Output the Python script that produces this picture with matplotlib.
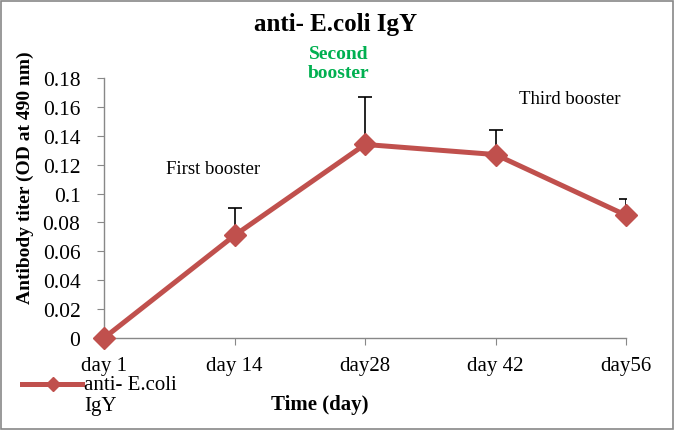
import matplotlib
matplotlib.use("Agg")
import matplotlib.pyplot as plt
from matplotlib.lines import Line2D
from matplotlib.patches import Rectangle

days = ["day 1", "day 14", "day28", "day 42", "day56"]
titer = [0.0, 0.071, 0.134, 0.127, 0.085]
err_upper = [0.0, 0.019, 0.033, 0.017, 0.011]
yticks = [0, 0.02, 0.04, 0.06, 0.08, 0.1, 0.12, 0.14, 0.16, 0.18]
ytick_labels = ["0", "0.02", "0.04", "0.06", "0.08", "0.1", "0.12", "0.14", "0.16", "0.18"]

plt.rcParams['font.family'] = ['Liberation Serif', 'DejaVu Serif']
color = "#C0504D"

fig = plt.figure(figsize=(6.75, 4.31), dpi=100)
W, H = 675, 431
ax = fig.add_axes([104 / W, 1 - 339 / H, (626 - 104) / W, (339 - 79) / H])

x = list(range(len(days)))
ax.errorbar(x, titer, yerr=[[0] * len(err_upper), err_upper], fmt='none',
            ecolor='black', elinewidth=1.2, capsize=4.7, capthick=1.2, zorder=2)
ax.plot(x, titer, color=color, lw=3.6, marker='D', markersize=11.5, zorder=3,
        clip_on=False)

ax.set_xlim(0, 4)
ax.set_ylim(0, 0.18)
ax.set_yticks(yticks)
ax.set_yticklabels(ytick_labels, fontsize=15.5)
ax.set_xticks(x)
ax.set_xticklabels(days, fontsize=15)
ax.tick_params(axis='y', direction='out', length=5, color='#888888', pad=12)
ax.tick_params(axis='x', direction='out', length=5, color='#888888', pad=8)
for s in ['top', 'right']:
    ax.spines[s].set_visible(False)
for s in ['left', 'bottom']:
    ax.spines[s].set_color('#888888')
    ax.spines[s].set_linewidth(1.0)

fig.text(336 / W, 1 - 25 / H, "anti- E.coli IgY", ha='center', va='center',
         fontsize=18, fontweight='bold')
fig.text(320 / W, 1 - 405 / H, "Time (day)", ha='center', va='center',
         fontsize=15, fontweight='bold')
fig.text(25 / W, 1 - 178 / H, "Antibody titer (OD at 490 nm)", ha='center',
         va='center', rotation=90, fontsize=14, fontweight='bold')

fig.text(213 / W, 1 - 170 / H, "First booster", ha='center', va='center', fontsize=13.5)
fig.text(339 / W, 1 - 64 / H, "Second\nbooster", ha='center', va='center',
         fontsize=14, fontweight='bold', color='#00B050', linespacing=1.15)
fig.text(570 / W, 1 - 100 / H, "Third booster", ha='center', va='center', fontsize=13.5)

# legend drawn manually
fig.add_artist(Line2D([22 / W, 82 / W], [1 - 385 / H, 1 - 385 / H], color=color, lw=3.6,
                      transform=fig.transFigure))
fig.add_artist(Line2D([53 / W], [1 - 385 / H], color=color, marker='D', markersize=7,
                      transform=fig.transFigure))
fig.text(84 / W, 1 - 396 / H, "anti- E.coli\nIgY", ha='left', va='center',
         fontsize=15, linespacing=1.2)

fig.add_artist(Rectangle((1 / W, 1 / H), (W - 3) / W, (H - 3) / H, fill=False,
                         edgecolor='#888888', lw=1.2, transform=fig.transFigure))

fig.savefig("out.png", dpi=100)
